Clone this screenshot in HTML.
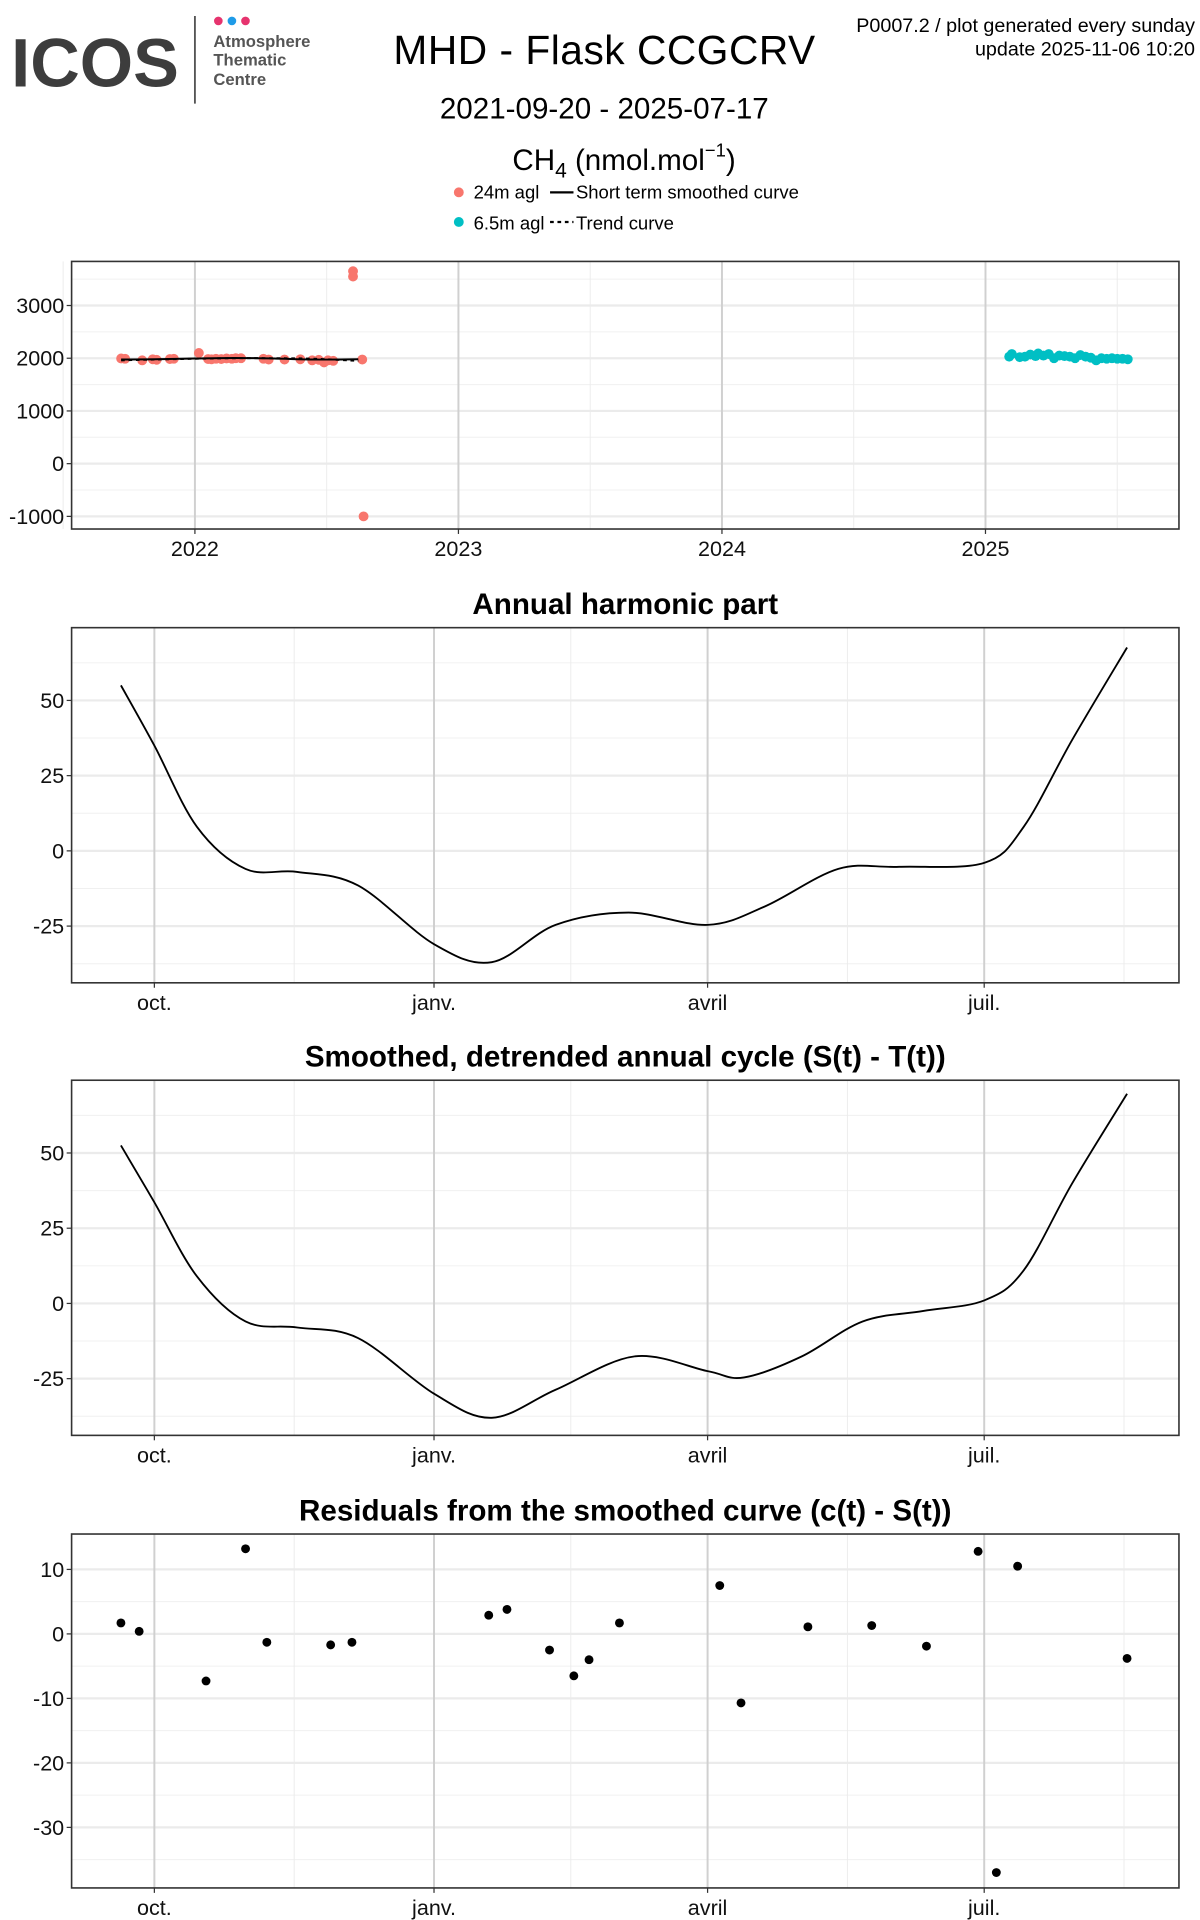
<!DOCTYPE html>
<html><head><meta charset="utf-8">
<style>
html,body{margin:0;padding:0;background:#fff;}
svg{display:block;font-family:"Liberation Sans",sans-serif;}
</style></head>
<body>
<svg id="chart" width="1200" height="1920" viewBox="0 0 973 1557" xmlns="http://www.w3.org/2000/svg">
<rect width="973" height="1557" fill="#fff"/>
<g>
  <text x="9" y="70" font-size="56" font-weight="bold" fill="#3d3d3d" textLength="136" lengthAdjust="spacingAndGlyphs">ICOS</text>
  <line x1="158" y1="13" x2="158" y2="84" stroke="#555" stroke-width="1.5"/>
  <circle cx="177" cy="17" r="3.5" fill="#e6336e"/>
  <circle cx="188" cy="17" r="3.5" fill="#1e9be8"/>
  <circle cx="199" cy="17" r="3.5" fill="#e6336e"/>
  <text x="173" y="38" font-size="13.5" font-weight="bold" fill="#555">Atmosphere</text>
  <text x="173" y="53" font-size="13.5" font-weight="bold" fill="#555">Thematic</text>
  <text x="173" y="69" font-size="13.5" font-weight="bold" fill="#555">Centre</text>
</g>
<text x="490" y="52" font-size="33" text-anchor="middle" textLength="342">MHD - Flask CCGCRV</text>
<text x="490" y="96" font-size="24" text-anchor="middle">2021-09-20 - 2025-07-17</text>
<text x="506" y="138" font-size="24" text-anchor="middle">CH<tspan font-size="17" dy="6">4</tspan><tspan dy="-6"> (nmol.mol</tspan><tspan font-size="15" dy="-11">−1</tspan><tspan dy="11">)</tspan></text>
<text x="969" y="26" font-size="16" text-anchor="end">P0007.2 / plot generated every sunday</text>
<text x="969" y="45" font-size="16" text-anchor="end">update  2025-11-06 10:20</text>
<g font-size="15">
  <g><circle cx="372" cy="156" r="4" fill="#f8766d"/><text x="384" y="161">24m agl</text></g>
  <g><line x1="446" y1="156" x2="465" y2="156" stroke="#000" stroke-width="1.8"/><text x="467" y="161">Short term smoothed curve</text></g>
  <g><circle cx="372" cy="180" r="4" fill="#00bfc4"/><text x="384" y="186">6.5m agl</text></g>
  <g><line x1="446" y1="180" x2="465" y2="180" stroke="#000" stroke-width="1.8" stroke-dasharray="3,3"/><text x="467" y="186">Trend curve</text></g>
</g>
<g id="p1"></g>
<g id="p2"></g>
<g id="p3"></g>
<g id="p4"></g>
</svg>
<script>
// ---- Panel 1 data (decimal years, nmol/mol) ----
const redYears = [2021.72,2021.735,2021.80,2021.84,2021.855,2021.905,2021.92,2022.015,2022.05,2022.063,2022.08,2022.10,2022.12,2022.14,2022.155,2022.175,2022.26,2022.28,2022.34,2022.40,2022.445,2022.47,2022.49,2022.505,2022.525,2022.60,2022.60,2022.635,2022.64];
const redValues = [1995,1990,1960,1980,1970,1985,1990,2100,1985,1980,1990,1985,1995,1990,2000,2000,1990,1975,1975,1980,1960,1970,1920,1960,1950,3650,3550,1975,-1000];
const cyanYears = [2025.09,2025.10,2025.13,2025.15,2025.17,2025.19,2025.20,2025.22,2025.24,2025.26,2025.28,2025.30,2025.32,2025.34,2025.36,2025.38,2025.40,2025.42,2025.44,2025.46,2025.48,2025.50,2025.52,2025.54];
const cyanValues = [2030,2080,2020,2030,2070,2040,2090,2050,2080,2000,2050,2040,2030,2000,2060,2030,2010,1960,2000,1990,2000,1990,1990,1980];
const smoothYears = [2021.72,2021.85,2022.0,2022.15,2022.3,2022.45,2022.62];
const smoothValues = [1975,1980,1995,2005,1995,1975,1980];
const trendYears = [2021.72,2021.85,2022.0,2022.15,2022.3,2022.45,2022.62];
const trendValues = [1960,1975,1990,2000,2000,1990,1950];
const p1YTicks = [3000,2000,1000,0,-1000];
const p1XTicks = [2022,2023,2024,2025];
// ---- Panels 2-4 (days since 2021-09-20) ----
const monthTickDays = [11,103,193,284];
const monthTickLabels = ["oct.","janv.","avril","juil."];
const harmDays = [0,11,25,41,58,78,103,122,143,167,193,212,236,256,284,297,313,331];
const harmValues = [55,35,8,-6,-7,-11.5,-31,-37,-24.6,-20.5,-24.6,-18.4,-6,-5.3,-4,8,37,67.6];
const detDays = [0,11,25,41,58,78,103,122,143,169,193,205,224,244,264,284,297,313,331];
const detValues = [52.5,33.6,9,-6,-8,-11.5,-30,-38,-28.7,-17.6,-22.5,-24.6,-17.6,-6,-2.5,1,11,40,69.7];
const resDays = [0,6,28,41,48,69,76,121,127,141,149,154,164,197,204,226,247,265,282,288,295,331];
const resValues = [1.7,0.4,-7.3,13.2,-1.3,-1.7,-1.3,2.9,3.8,-2.5,-6.5,-4.0,1.7,7.5,-10.7,1.1,1.3,-1.9,12.8,-37,10.5,-3.8];
const p2YTicks = [50,25,0,-25];
const p4YTicks = [10,0,-10,-20,-30];

const NS="http://www.w3.org/2000/svg";
function mk(parent,tag,attrs){const e=document.createElementNS(NS,tag);for(const k in attrs)e.setAttribute(k,attrs[k]);parent.appendChild(e);return e;}
const L=58,R=956;
function frame(g,top,bot,xs,xMajor,xMinor,yScale,yMajor,yMinor,xLabels){
  for(const v of yMinor){const y=yScale(v);if(y>top&&y<bot){const l=mk(g,'line',{x1:L,x2:R,y1:y,y2:y,stroke:'#f0f0f0','stroke-width':0.8});

}}
  for(const v of xMinor){const x=xs(v);const l=mk(g,'line',{x1:x,x2:x,y1:top,y2:bot,stroke:'#ececec','stroke-width':0.8});

}
  for(const v of yMajor){const y=yScale(v);const l=mk(g,'line',{x1:L,x2:R,y1:y,y2:y,stroke:'#ebebeb','stroke-width':1.8});


    mk(g,'line',{x1:L-4,x2:L,y1:y,y2:y,stroke:'#333','stroke-width':1});
    const tx=mk(g,'text',{x:L-6,y:y+6,'font-size':17.5,'text-anchor':'end',fill:'#111'});tx.textContent=String(v);

}
  xMajor.forEach((v,i)=>{const x=xs(v);const l=mk(g,'line',{x1:x,x2:x,y1:top,y2:bot,stroke:'#d0d0d0','stroke-width':1.6});


    mk(g,'line',{x1:x,x2:x,y1:bot,y2:bot+4,stroke:'#333','stroke-width':1});
    const tx=mk(g,'text',{x:x,y:bot+22,'font-size':17.5,'text-anchor':'middle',fill:'#111'});tx.textContent=xLabels[i];

});
  const b=mk(g,'rect',{x:L,y:top,width:R-L,height:bot-top,fill:'none',stroke:'#333','stroke-width':1.3});


}
function smoothPath(pts){let d='M'+pts[0][0]+','+pts[0][1];for(let i=0;i<pts.length-1;i++){const p0=pts[Math.max(0,i-1)],p1=pts[i],p2=pts[i+1],p3=pts[Math.min(pts.length-1,i+2)];
const c1=[p1[0]+(p2[0]-p0[0])/6,p1[1]+(p2[1]-p0[1])/6],c2=[p2[0]-(p3[0]-p1[0])/6,p2[1]-(p3[1]-p1[1])/6];d+=` C${c1[0]},${c1[1]} ${c2[0]},${c2[1]} ${p2[0]},${p2[1]}`;}return d;}

// Panel 1
(function(){const g=document.getElementById('p1');const top=212,bot=429;
const xs=y=>158+(y-2022)*213.7; const ys=v=>376-v*0.04275;
frame(g,top,bot,xs,p1XTicks,[2021.5,2022.5,2023.5,2024.5,2025.5],ys,p1YTicks,[3500,2500,1500,500,-500],p1XTicks.map(String));
redYears.forEach((yr,i)=>{const c=mk(g,'circle',{cx:xs(yr),cy:ys(redValues[i]),r:4,fill:'#f8766d'});

});
cyanYears.forEach((yr,i)=>{const c=mk(g,'circle',{cx:xs(yr),cy:ys(cyanValues[i]),r:4,fill:'#00bfc4'});

});
const s=mk(g,'path',{d:smoothPath(smoothYears.map((y,i)=>[xs(y),ys(smoothValues[i])])),fill:'none',stroke:'#000','stroke-width':1.6});


const t=mk(g,'path',{d:smoothPath(trendYears.map((y,i)=>[xs(y),ys(trendValues[i])])),fill:'none',stroke:'#000','stroke-width':1.6,'stroke-dasharray':'3,3'});


})();
const dx=d=>98+d*2.465;
function linePanel(id,top,zeroY,values,days,title,name){const g=document.getElementById(id);const bot=top+288;
const ys=v=>zeroY-v*61/25;
const tt=mk(g,'text',{x:507,y:top-11,'font-size':24,'font-weight':'bold','text-anchor':'middle'});tt.textContent=title;


frame(g,top,bot,dx,monthTickDays,[57,148,239,330],ys,p2YTicks,[62.5,37.5,12.5,-12.5,-37.5],monthTickLabels);
const p=mk(g,'path',{d:smoothPath(days.map((d,i)=>[dx(d),ys(values[i])])),fill:'none',stroke:'#000','stroke-width':1.5});

}
linePanel('p2',509,690,harmValues,harmDays,'Annual harmonic part','harmonic-curve');
linePanel('p3',876,1057,detValues,detDays,'Smoothed, detrended annual cycle (S(t) - T(t))','detrended-curve');
(function(){const g=document.getElementById('p4');const top=1244,bot=1531;const ys=v=>1325-v*5.23;
const tt=mk(g,'text',{x:507,y:top-11,'font-size':24,'font-weight':'bold','text-anchor':'middle'});tt.textContent='Residuals from the smoothed curve (c(t) - S(t))';


frame(g,top,bot,dx,monthTickDays,[57,148,239,330],ys,p4YTicks,[5,-5,-15,-25,-35],monthTickLabels);
resDays.forEach((d,i)=>{const c=mk(g,'circle',{cx:dx(d),cy:ys(resValues[i]),r:3.6,fill:'#000'});

});
})();
</script>
</body></html>
